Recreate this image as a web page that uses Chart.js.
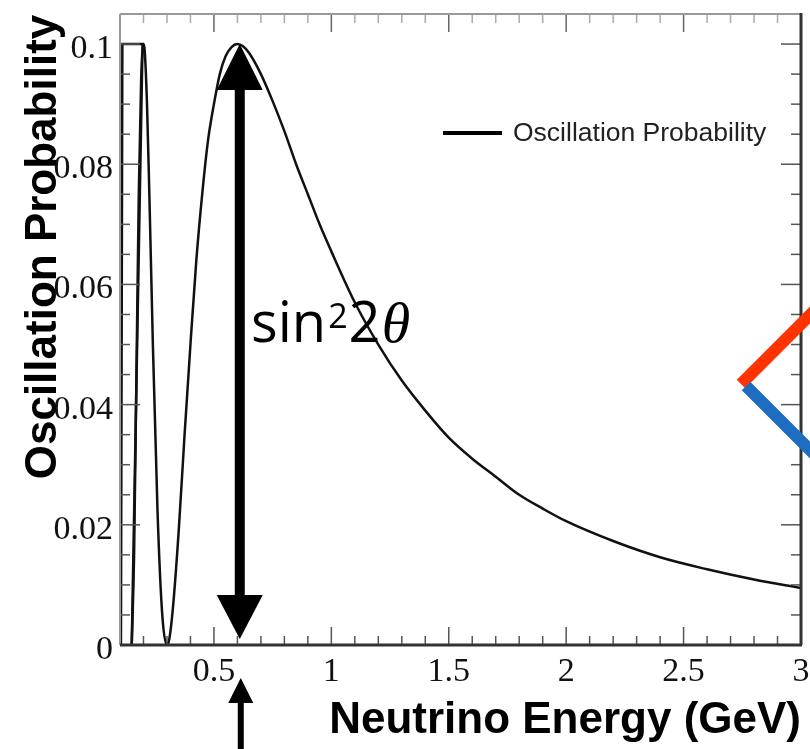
<!DOCTYPE html>
<html>
<head>
<meta charset="utf-8">
<script src="https://cdn.jsdelivr.net/npm/chart.js@4.4.1/dist/chart.umd.min.js"></script>
<style>
  html, body { margin: 0; padding: 0; background: #fff; }
  canvas { display: block; }
</style>
</head>
<body>
<canvas id="chart" width="810" height="749"></canvas>
<script>
// values
const energy = [0.150, 0.160, 0.170, 0.180, 0.190, 0.200, 0.205, 0.215, 0.225, 0.240,
  0.260, 0.280, 0.300, 0.310, 0.325, 0.350, 0.375, 0.400, 0.425, 0.450,
  0.475, 0.500, 0.525, 0.550, 0.575, 0.600, 0.625, 0.650, 0.700, 0.750,
  0.800, 0.850, 0.900, 0.950, 1.000, 1.100, 1.200, 1.300, 1.400, 1.500,
  1.600, 1.700, 1.800, 1.900, 2.000, 2.200, 2.400, 2.600, 2.800, 3.000];
const probability = [0.000, 0.015, 0.045, 0.075, 0.094, 0.100, 0.099, 0.090, 0.075, 0.050,
  0.022, 0.005, 0.000, 0.001, 0.006, 0.019, 0.035, 0.050, 0.064, 0.075,
  0.084, 0.090, 0.095, 0.098, 0.0995, 0.100, 0.0996, 0.0985, 0.095, 0.0905,
  0.0855, 0.080, 0.075, 0.070, 0.0655, 0.057, 0.050, 0.044, 0.039, 0.0345,
  0.031, 0.028, 0.025, 0.0227, 0.0206, 0.0173, 0.0146, 0.0126, 0.0109, 0.0095];
// the coarse, jagged part at the lowest energies
const spikeEnergy = [0.104, 0.110, 0.196, 0.150];
const spikeProbability = [0.000, 0.100, 0.100, 0.000];

const xTicks = [0.5, 1, 1.5, 2, 2.5, 3];
const yTicks = [0, 0.02, 0.04, 0.06, 0.08, 0.1];
const xTitle = 'Neutrino Energy (GeV)';
const yTitle = 'Oscillation Probability';
const legendLabel = 'Oscillation Probability';
const peakEnergy = 0.61;

const tickFont = { family: '"Liberation Serif", "Times New Roman", serif', size: 34 };

function toPoints(xs, ys) {
  return xs.map((x, i) => ({ x: x, y: ys[i] }));
}

function line(ctx, x1, y1, x2, y2) {
  ctx.beginPath();
  ctx.moveTo(x1, y1);
  ctx.lineTo(x2, y2);
  ctx.stroke();
}

function head(ctx, cx, tipY, baseY, half) {
  ctx.beginPath();
  ctx.moveTo(cx, tipY);
  ctx.lineTo(cx - half, baseY);
  ctx.lineTo(cx + half, baseY);
  ctx.closePath();
  ctx.fill();
}

// ROOT style frame with inward ticks on all four sides
const frame = {
  id: 'frame',
  afterDatasetsDraw(chart) {
    const { ctx, chartArea: a, scales: { x, y } } = chart;
    ctx.save();
    ctx.strokeStyle = '#555';
    ctx.lineWidth = 1.5;
    for (let i = 1; i <= 30; i++) {
      const px = x.getPixelForValue(i / 10);
      const len = i % 5 === 0 ? 18 : 9;
      line(ctx, px, a.bottom, px, a.bottom - len);
      ctx.strokeStyle = i % 5 === 0 ? '#666' : '#aaa';
      line(ctx, px, a.top, px, a.top + len);
      ctx.strokeStyle = '#555';
    }
    for (let i = 0; i <= 21; i++) {
      const py = y.getPixelForValue(i * 0.005);
      const len = i % 4 === 0 ? 20 : 10;
      line(ctx, a.left, py, a.left + len, py);
      line(ctx, a.right, py, a.right - len, py);
    }
    ctx.lineWidth = 2;
    ctx.strokeStyle = '#999';
    line(ctx, a.left, a.top, a.right, a.top);
    line(ctx, a.left, a.top, a.left, a.bottom);
    ctx.lineWidth = 3;
    ctx.strokeStyle = '#333';
    line(ctx, a.left, a.bottom, a.right + 1, a.bottom);
    line(ctx, a.right, a.top - 1, a.right, a.bottom);
    ctx.restore();
  }
};

const extras = {
  id: 'extras',
  afterDraw(chart) {
    const { ctx, scales: { x, y } } = chart;
    ctx.save();

    // axis titles
    ctx.fillStyle = '#000';
    ctx.font = 'bold 44px "Liberation Sans", Arial, sans-serif';
    ctx.textAlign = 'right';
    ctx.textBaseline = 'alphabetic';
    ctx.fillText(xTitle, 801, 733);
    ctx.save();
    ctx.translate(56, 247);
    ctx.rotate(-Math.PI / 2);
    ctx.textAlign = 'center';
    ctx.fillText(yTitle, 0, 0);
    ctx.restore();

    // legend
    ctx.lineWidth = 4;
    ctx.strokeStyle = '#000';
    line(ctx, 443, 133, 502, 133);
    ctx.font = '26.5px "Liberation Sans", Arial, sans-serif';
    ctx.fillStyle = '#222';
    ctx.textAlign = 'left';
    ctx.textBaseline = 'middle';
    ctx.fillText(legendLabel, 513, 134);

    // amplitude arrow
    const cx = x.getPixelForValue(peakEnergy);
    const top = y.getPixelForValue(0.1);
    const bottom = y.getPixelForValue(0) - 6;
    ctx.fillStyle = '#000';
    ctx.fillRect(cx - 5, top + 40, 10, bottom - top - 80);
    head(ctx, cx, top, top + 46, 23);
    head(ctx, cx, bottom, bottom - 44, 23);

    // small arrow under the axis
    head(ctx, cx + 1, 678, 703, 12.5);
    ctx.fillRect(cx - 2, 700, 6, 60);

    // sin^2 2theta
    ctx.textAlign = 'left';
    ctx.textBaseline = 'alphabetic';
    let tx = 251;
    ctx.font = '56px "Open Sans", "Noto Sans", sans-serif';
    ctx.fillText('sin', tx, 342);
    tx += ctx.measureText('sin').width + 2;
    ctx.font = '34px "Open Sans", "Noto Sans", sans-serif';
    ctx.fillText('2', tx, 328);
    tx += ctx.measureText('2').width + 1;
    ctx.font = '56px "Open Sans", "Noto Sans", sans-serif';
    ctx.fillText('2', tx, 342);
    tx += ctx.measureText('2').width + 1;
    ctx.font = 'italic 58px "Liberation Serif", "DejaVu Serif", serif';
    ctx.fillText('\u03b8', tx, 342);

    // red and blue strokes at the right edge
    ctx.lineWidth = 12;
    ctx.lineCap = 'butt';
    ctx.strokeStyle = '#ff3300';
    line(ctx, 741, 384, 825, 300);
    ctx.strokeStyle = '#1f6dbf';
    line(ctx, 746, 386, 825, 465);

    ctx.restore();
  }
};

new Chart(document.getElementById('chart'), {
  type: 'scatter',
  data: {
    datasets: [
      {
        data: toPoints(energy, probability),
        showLine: true,
        borderColor: '#111',
        borderWidth: 2.5,
        pointRadius: 0,
        cubicInterpolationMode: 'monotone'
      },
      {
        data: toPoints(spikeEnergy, spikeProbability),
        showLine: true,
        borderColor: '#111',
        borderWidth: 2.5,
        pointRadius: 0,
        tension: 0
      }
    ]
  },
  options: {
    responsive: false,
    animation: false,
    layout: { padding: { top: 14, right: 9, left: 0, bottom: 0 } },
    plugins: { legend: { display: false }, tooltip: { enabled: false } },
    scales: {
      x: {
        type: 'linear',
        min: 0.1,
        max: 3.0,
        grid: { display: false, drawTicks: false },
        border: { display: false },
        afterBuildTicks: s => { s.ticks = xTicks.map(v => ({ value: v })); },
        afterFit: s => {
          s.height = 104;
          s.paddingLeft = 0;
          s.paddingRight = 0;
        },
        ticks: {
          font: tickFont,
          color: '#111',
          padding: 7,
          maxRotation: 0,
          autoSkip: false,
          callback: v => String(v)
        }
      },
      y: {
        type: 'linear',
        min: 0,
        max: 0.105,
        grid: { display: false, drawTicks: false },
        border: { display: false },
        afterBuildTicks: s => { s.ticks = yTicks.map(v => ({ value: v })); },
        afterFit: s => {
          s.width = 120;
          s.paddingTop = 0;
          s.paddingBottom = 0;
        },
        ticks: {
          font: tickFont,
          color: '#111',
          padding: 7,
          labelOffset: 5,
          autoSkip: false,
          callback: v => String(+v.toFixed(2))
        }
      }
    }
  },
  plugins: [frame, extras]
});
</script>
</body>
</html>
